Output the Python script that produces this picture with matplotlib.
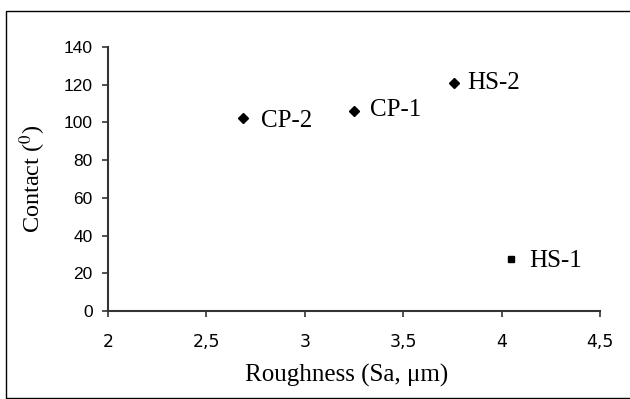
import matplotlib
matplotlib.use('Agg')
import matplotlib.pyplot as plt
from matplotlib.patches import Rectangle

# data
names = ['CP-2', 'CP-1', 'HS-2', 'HS-1']
roughness = [2.686, 3.25, 3.758, 4.05]
contact = [102.3, 106.1, 120.9, 27.5]
markers = ['D', 'D', 'D', 's']

xticks = [2, 2.5, 3, 3.5, 4, 4.5]
xticklabels = ['2', '2,5', '3', '3,5', '4', '4,5']
yticks = [0, 20, 40, 60, 80, 100, 120, 140]

# label offsets in pixels (dx right, dy up) from marker to text baseline
offsets = [(18, -9), (16, -5), (13, -6), (18, -8)]

plt.rcParams['mathtext.fontset'] = 'stix'
serif = ['Liberation Serif', 'DejaVu Serif']

fig = plt.figure(figsize=(6.3, 3.99), dpi=100)
fig.patches.append(Rectangle((6 / 630, 1.5 / 399), 1.0, 1 - 12.5 / 399,
                             transform=fig.transFigure, fill=False,
                             edgecolor='black', linewidth=1.0))
ax = fig.add_axes([108 / 630, 1 - 311 / 399, 492 / 630, 264 / 399])

for x, y, m, n, (dx, dy) in zip(roughness, contact, markers, names, offsets):
    ax.plot(x, y, marker=m, color='black', markersize=4.8 if m == 'D' else 4.2,
            linestyle='none', clip_on=False)
    ax.annotate(n, (x, y), xytext=(dx * 0.72, dy * 0.72), textcoords='offset points',
                va='baseline', ha='left', fontsize=18, family=serif)

ax.set_xlim(2, 4.5)
ax.set_ylim(0, 140)
ax.set_xticks(xticks)
ax.set_xticklabels(xticklabels, family='DejaVu Sans', fontsize=12.5)
ax.set_yticks(yticks)
ax.set_yticklabels([str(v) for v in yticks], family='Liberation Sans', fontsize=12.5)
ax.tick_params(direction='out', length=4, width=1.2, color='#333333')
ax.tick_params(axis='x', pad=11.5)
ax.tick_params(axis='y', pad=7)

for s in ['top', 'right']:
    ax.spines[s].set_visible(False)
for s in ['left', 'bottom']:
    ax.spines[s].set_linewidth(1.5)
    ax.spines[s].set_color('#333333')

ax.set_xlabel('Roughness (Sa, \u03bcm)', family=serif, fontsize=18, labelpad=10)
ax.xaxis.set_label_coords(0.484, -0.2)
ax.xaxis.label.set_va('top')
ax.set_ylabel('Contact ($^\\mathrm{0}$)', family=serif, fontsize=17.5, labelpad=11)

fig.savefig('out.png', dpi=100)
